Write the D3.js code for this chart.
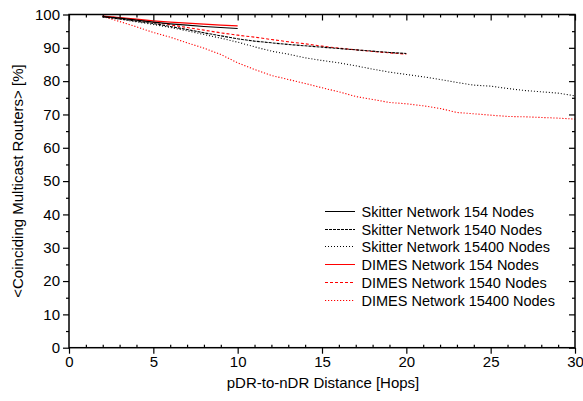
<!DOCTYPE html>
<html>
<head>
<meta charset="utf-8">
<script src="https://cdn.jsdelivr.net/npm/d3@7/dist/d3.min.js"></script>
<style>
  html, body { margin: 0; padding: 0; background: #fff; }
  svg { display: block; font-family: "Liberation Sans", Arial, sans-serif; }
</style>
</head>
<body>
<svg id="chart" width="583" height="401"></svg>
<script>
// Hop distances for each network size
const hops154 = [2, 3, 4, 5, 6, 7, 8, 9, 10];
const hops1540 = [2, 3, 4, 5, 6, 7, 8, 9, 10, 11, 12, 13, 14, 15, 16, 17, 18, 19, 20];
const hops15400 = [2, 3, 4, 5, 6, 7, 8, 9, 10, 11, 12, 13, 14, 15, 16, 17, 18, 19, 20,
                   21, 22, 23, 24, 25, 26, 27, 28, 29, 30];

// Mean share of coinciding multicast routers [%]
const skitter154 = [99.4, 98.9, 98.3, 97.7, 97.2, 96.8, 96.4, 96.1, 95.8];
const dimes154 = [99.5, 99.1, 98.6, 98.1, 97.7, 97.4, 97.1, 96.8, 96.6];
const skitter1540 = [99.3, 98.7, 98.0, 97.3, 96.4, 95.5, 94.5, 93.6, 92.7, 92.0,
                     91.5, 91.0, 90.6, 90.2, 89.8, 89.4, 89.0, 88.6, 88.3];
const dimes1540 = [99.5, 99.0, 98.4, 97.7, 96.9, 96.1, 95.3, 94.5, 93.8, 93.2,
                   92.5, 91.8, 91.2, 90.5, 89.9, 89.4, 88.9, 88.5, 88.1];
const skitter15400 = [99.3, 98.6, 97.8, 97.0, 96.1, 95.1, 94.0, 92.9, 91.7, 90.3,
                      89.0, 88.1, 87.0, 86.2, 85.5, 84.6, 83.6, 82.7, 82.0, 81.3,
                      80.5, 79.6, 78.8, 78.5, 77.8, 77.2, 76.8, 76.4, 75.6];
const dimes15400 = [99.4, 97.9, 96.3, 94.6, 93.2, 91.5, 89.9, 88.0, 85.5, 83.5,
                    81.7, 80.5, 79.3, 78.0, 76.8, 75.4, 74.5, 73.6, 73.2, 72.6,
                    71.8, 70.6, 70.2, 69.8, 69.4, 69.3, 69.1, 68.9, 68.6];

const seriesNames = [
  "Skitter Network 154 Nodes",
  "Skitter Network 1540 Nodes",
  "Skitter Network 15400 Nodes",
  "DIMES Network 154 Nodes",
  "DIMES Network 1540 Nodes",
  "DIMES Network 15400 Nodes"
];

const xTicks = [0, 5, 10, 15, 20, 25, 30];
const yTicks = [0, 10, 20, 30, 40, 50, 60, 70, 80, 90, 100];

const styles = [
  { color: "#000", dash: null },
  { color: "#000", dash: "3,1" },
  { color: "#000", dash: "1,2" },
  { color: "#f00", dash: null },
  { color: "#f00", dash: "3,2" },
  { color: "#f00", dash: "1.2,1.8" }
];

const series = [
  { name: seriesNames[0], x: hops154, y: skitter154, style: styles[0] },
  { name: seriesNames[1], x: hops1540, y: skitter1540, style: styles[1] },
  { name: seriesNames[2], x: hops15400, y: skitter15400, style: styles[2] },
  { name: seriesNames[3], x: hops154, y: dimes154, style: styles[3] },
  { name: seriesNames[4], x: hops1540, y: dimes1540, style: styles[4] },
  { name: seriesNames[5], x: hops15400, y: dimes15400, style: styles[5] }
];

const svg = d3.select("#chart");
const plotLeft = 69, plotRight = 575, plotTop = 14.5, plotBottom = 347.7;

const x = d3.scaleLinear().domain([0, 30]).range([plotLeft, plotRight]);
const y = d3.scaleLinear().domain([0, 100]).range([plotBottom, plotTop]);

const xMinor = d3.range(0, 31, 1).filter(v => v % 5 !== 0);
const yMinor = d3.range(5, 100, 10);

// Plot lines, clipped to the frame
svg.append("defs").append("clipPath").attr("id", "plotClip")
  .append("rect").attr("x", plotLeft).attr("y", plotTop)
  .attr("width", plotRight - plotLeft).attr("height", plotBottom - plotTop);

const line = d3.line().x(d => x(d[0])).y(d => y(d[1]));
const plot = svg.append("g").attr("clip-path", "url(#plotClip)");
// draw DIMES first so the black curves sit on top where they overlap
[3, 4, 5, 0, 1, 2].forEach(i => {
  const s = series[i];
  plot.append("path")
    .datum(s.x.map((v, k) => [v, s.y[k]]))
    .attr("d", line)
    .attr("fill", "none")
    .attr("stroke", s.style.color)
    .attr("stroke-width", 1.1)
    .attr("stroke-dasharray", s.style.dash);
});

const axisStyle = g => {
  g.select(".domain").remove();
  g.selectAll("line").attr("stroke", "#000").attr("stroke-width", 1.2);
  g.selectAll("text").attr("fill", "#000").style("font-size", "15px")
    .style("font-family", "'Liberation Sans', Arial, sans-serif");
};

// Bottom axis: major ticks outward, minor ticks inward
svg.append("g").attr("transform", `translate(0,${plotBottom})`)
  .call(d3.axisBottom(x).tickValues(xTicks).tickSize(6).tickPadding(3).tickFormat(d3.format("d")))
  .call(axisStyle);
svg.append("g").attr("transform", `translate(0,${plotBottom})`)
  .call(d3.axisTop(x).tickValues(xMinor).tickSize(3).tickFormat(""))
  .call(axisStyle);

// Left axis: major and minor ticks outward
svg.append("g").attr("transform", `translate(${plotLeft},0)`)
  .call(d3.axisLeft(y).tickValues(yTicks).tickSize(6).tickPadding(3).tickFormat(d3.format("d")))
  .call(axisStyle);
svg.append("g").attr("transform", `translate(${plotLeft},0)`)
  .call(d3.axisLeft(y).tickValues(yMinor).tickSize(3).tickFormat(""))
  .call(axisStyle);

// Top axis: ticks inward
svg.append("g").attr("transform", `translate(0,${plotTop})`)
  .call(d3.axisBottom(x).tickValues(xTicks).tickSize(6).tickFormat(""))
  .call(axisStyle);
svg.append("g").attr("transform", `translate(0,${plotTop})`)
  .call(d3.axisBottom(x).tickValues(xMinor).tickSize(3).tickFormat(""))
  .call(axisStyle);

// Right axis: ticks inward
svg.append("g").attr("transform", `translate(${plotRight},0)`)
  .call(d3.axisLeft(y).tickValues(yTicks).tickSize(6).tickFormat(""))
  .call(axisStyle);
svg.append("g").attr("transform", `translate(${plotRight},0)`)
  .call(d3.axisLeft(y).tickValues(yMinor).tickSize(3).tickFormat(""))
  .call(axisStyle);

// Frame
svg.append("rect")
  .attr("x", plotLeft).attr("y", plotTop)
  .attr("width", plotRight - plotLeft).attr("height", plotBottom - plotTop)
  .attr("fill", "none").attr("stroke", "#000").attr("stroke-width", 1.5);

// Axis titles
svg.append("text")
  .attr("x", 323).attr("y", 388)
  .attr("text-anchor", "middle")
  .style("font-size", "15px")
  .text("pDR-to-nDR Distance [Hops]");

svg.append("text")
  .attr("transform", `translate(23,181) rotate(-90)`)
  .attr("text-anchor", "middle")
  .style("font-size", "15px")
  .text("<Coinciding Multicast Routers> [%]");

// Legend
const legend = svg.append("g").attr("transform", "translate(325,0)");
series.forEach((s, i) => {
  const rowY = Math.round(211 + i * 17.7) + 0.5;
  const row = legend.append("g").attr("transform", `translate(0,${rowY})`);
  row.append("line")
    .attr("x1", 0).attr("x2", 30).attr("y1", 0).attr("y2", 0)
    .attr("stroke", s.style.color).attr("stroke-width", 1)
    .attr("stroke-dasharray", s.style.dash);
  row.append("text")
    .attr("x", 36.5).attr("y", 5)
    .style("font-size", "14.5px")
    .text(s.name);
});
</script>
</body>
</html>
